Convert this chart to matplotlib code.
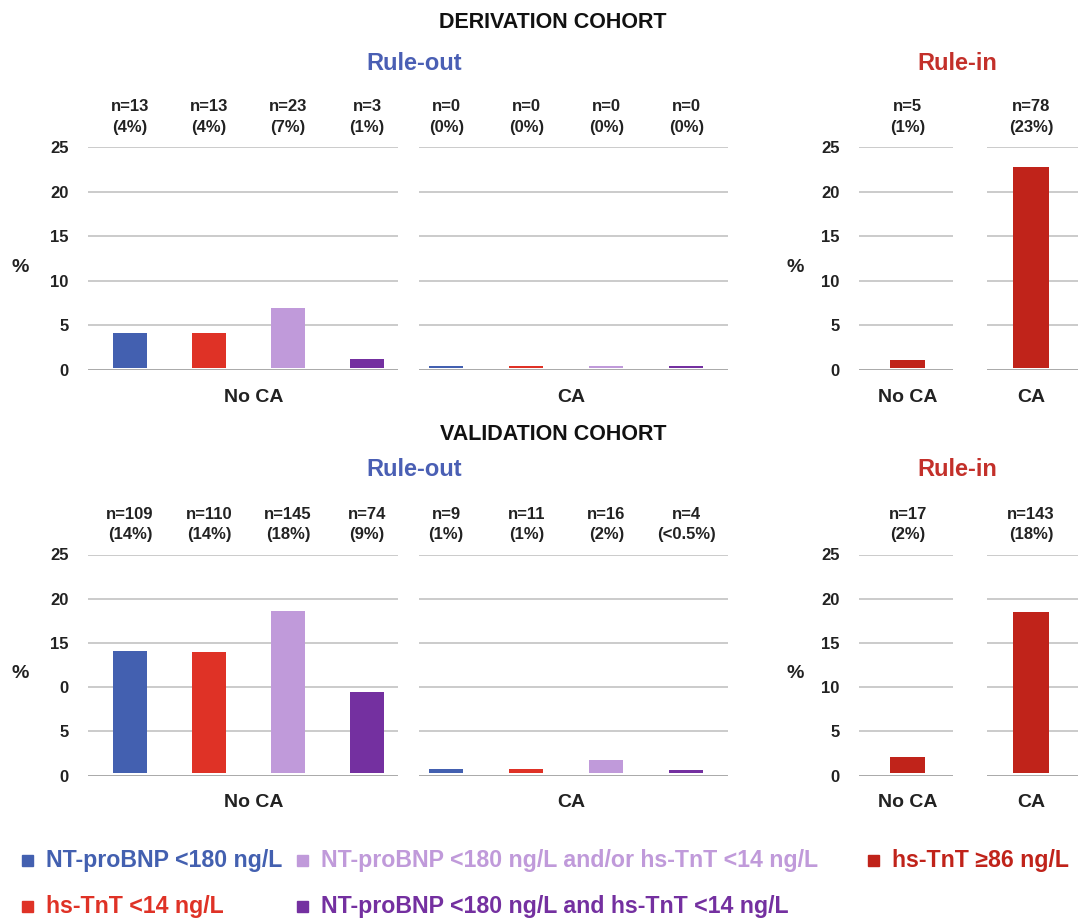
import matplotlib
matplotlib.use('Agg')
import matplotlib.pyplot as plt
from matplotlib.patches import Rectangle

plt.rcParams['font.family'] = ['Liberation Sans', 'DejaVu Sans']
plt.rcParams['font.weight'] = 'bold'

# DADOS
categories = ['No CA', 'CA']
series = ['NT-proBNP <180 ng/L', 'hs-TnT <14 ng/L',
          'NT-proBNP <180 ng/L and/or hs-TnT <14 ng/L',
          'NT-proBNP <180 ng/L and hs-TnT <14 ng/L']
rulein_series = 'hs-TnT \u226586 ng/L'

deriv_out_noca = [4.2, 4.2, 6.9, 1.2]
deriv_out_ca = [0.5, 0.5, 0.5, 0.5]
deriv_in = [1.1, 22.8]
deriv_n_out_noca = ['n=13\n(4%)', 'n=13\n(4%)', 'n=23\n(7%)', 'n=3\n(1%)']
deriv_n_out_ca = ['n=0\n(0%)', 'n=0\n(0%)', 'n=0\n(0%)', 'n=0\n(0%)']
deriv_n_in = ['n=5\n(1%)', 'n=78\n(23%)']

val_out_noca = [14.1, 14.0, 18.6, 9.4]
val_out_ca = [0.7, 0.7, 1.7, 0.6]
val_in = [2.1, 18.5]
val_n_out_noca = ['n=109\n(14%)', 'n=110\n(14%)', 'n=145\n(18%)', 'n=74\n(9%)']
val_n_out_ca = ['n=9\n(1%)', 'n=11\n(1%)', 'n=16\n(2%)', 'n=4\n(<0.5%)']
val_n_in = ['n=17\n(2%)', 'n=143\n(18%)']

yticks = [0, 5, 10, 15, 20, 25]
ticklabels = ['0', '5', '10', '15', '20', '25']
val_out_ticklabels = ['0', '5', '0', '15', '20', '25']   # como na figura original

# CORES
c_out = ['#4360b0', '#df3226', '#c09ada', '#7430a0']
c_in = '#c0231a'
c_title_out = '#4a5fb4'
c_title_in = '#c3302a'
txt = '#222222'

W, H = 1078, 918
fig = plt.figure(figsize=(W / 100, H / 100), dpi=100)


def add_ax(left, right, top, bottom):
    return fig.add_axes([left / W, 1 - bottom / H, (right - left) / W, (bottom - top) / H])


def panel(ax, values, colors, nlabels, xlim, width, cat, tl=None, base=0.25):
    x = list(range(len(values)))
    ax.bar(x, [v - base for v in values], bottom=base, width=width, color=colors, zorder=3)
    ax.set_xlim(*xlim)
    ax.set_ylim(0, 25)
    ax.set_yticks(yticks)
    ax.yaxis.grid(True, color='#c2c2c2', lw=1.2)
    ax.axhline(0, color='#a8a8a8', lw=1.3, zorder=2)
    ax.set_axisbelow(True)
    for s in ax.spines.values():
        s.set_visible(False)
    ax.set_xticks([])
    ax.tick_params(axis='y', length=0, pad=14, labelsize=12, labelcolor=txt)
    if tl is None:
        ax.set_yticklabels([])
    else:
        ax.set_yticklabels(tl, fontweight='bold')
    for xi, lab in zip(x, nlabels):
        ax.annotate(lab, xy=(xi, 1), xycoords=('data', 'axes fraction'),
                    xytext=(0, 30), textcoords='offset pixels', ha='center', va='center',
                    fontsize=12, color=txt, linespacing=1.45, annotation_clip=False)
    ax.annotate(cat, xy=(x[0] + (x[-1] - x[0]) / 2 + (0.06 if len(x) > 1 else 0), 0),
                xycoords=('data', 'axes fraction'), xytext=(0, -27), textcoords='offset pixels',
                ha='center', va='center', fontsize=14, color=txt, annotation_clip=False)


rows = [
    dict(top=147, bottom=370, title='DERIVATION COHORT', ty=22, sy=64,
         noca=deriv_out_noca, ca=deriv_out_ca, rin=deriv_in,
         n_noca=deriv_n_out_noca, n_ca=deriv_n_out_ca, n_in=deriv_n_in,
         tl=ticklabels),
    dict(top=554.5, bottom=775.5, title='VALIDATION COHORT', ty=434, sy=470,
         noca=val_out_noca, ca=val_out_ca, rin=val_in,
         n_noca=val_n_out_noca, n_ca=val_n_out_ca, n_in=val_n_in,
         tl=val_out_ticklabels),
]

for r in rows:
    t, b = r['top'], r['bottom']
    fig.text(553 / W, 1 - r['ty'] / H, r['title'], ha='center', va='center',
             fontsize=15.5, color='#111111')
    fig.text(414 / W, 1 - r['sy'] / H, 'Rule-out', ha='center', va='center',
             fontsize=17, color=c_title_out)
    fig.text(957 / W, 1 - r['sy'] / H, 'Rule-in', ha='center', va='center',
             fontsize=17, color=c_title_in)
    mid = (t + b) / 2 + 9
    fig.text(20 / W, 1 - mid / H, '%', ha='center', va='center', fontsize=14, color=txt)
    fig.text(795 / W, 1 - mid / H, '%', ha='center', va='center', fontsize=14, color=txt)

    ax1 = add_ax(88, 398, t, b)
    panel(ax1, r['noca'], c_out, r['n_noca'], (-0.53, 3.39), 0.43, categories[0], r['tl'])
    ax2 = add_ax(419, 728, t, b)
    panel(ax2, r['ca'], c_out, r['n_ca'], (-0.34, 3.52), 0.425, categories[1])
    ax3 = add_ax(859, 953, t, b)
    panel(ax3, r['rin'][:1], [c_in], r['n_in'][:1], (-0.52, 0.48), 0.37, categories[0], ticklabels)
    ax4 = add_ax(987, 1078, t, b)
    panel(ax4, r['rin'][1:], [c_in], r['n_in'][1:], (-0.484, 0.516), 0.39, categories[1])

# LEGENDA
legend_items = [
    (series[0], c_out[0], 22, 860),
    (series[2], c_out[2], 297, 860),
    (rulein_series, c_in, 868, 860),
    (series[1], c_out[1], 22, 906),
    (series[3], c_out[3], 297, 906),
]
for label, col, lx, ly in legend_items:
    fig.patches.append(Rectangle((lx / W, 1 - (ly + 5.5) / H), 11 / W, 11 / H,
                                 transform=fig.transFigure, color=col))
    fig.text((lx + 24) / W, 1 - ly / H, label, ha='left', va='center',
             fontsize=16.7, color=col)

fig.savefig('out.png', dpi=100)
